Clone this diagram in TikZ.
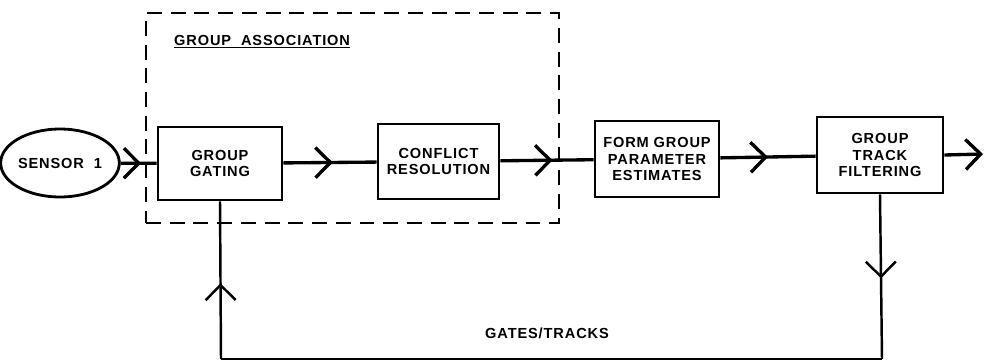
\documentclass[tikz,border=0pt]{standalone}
\usepackage{fontspec}
\newfontfamily\diagfont[LetterSpace=6]{Liberation Sans}
\usetikzlibrary{shapes.geometric,arrows.meta,decorations.markings}

\begin{document}
\begin{tikzpicture}[
    x=0.02cm, y=-0.02cm,
    every node/.style={font=\diagfont\bfseries\fontsize{8.3}{9.6}\selectfont},
    chev/.tip={Straight Barb[length=0.3cm,width=0.6cm]},
    blk/.style={rectangle,draw,line width=1.6pt,align=center,inner sep=0pt},
    src/.style={ellipse,draw,line width=1.6pt,minimum width=2.08cm,minimum height=1.36cm,inner sep=0pt},
    assocbox/.style={rectangle,draw,line width=1.5pt,dash pattern=on 8.5pt off 5pt,inner sep=0pt},
    main/.style={line width=1.9pt},
    fback/.style={line width=1.4pt},
    flow/.style={postaction={decorate},decoration={markings,mark=at position #1 with {\arrow{chev}}}},
    flow/.default=0.55,]
\useasboundingbox (0,0) rectangle (984,362);

% group association frame
\node[assocbox,minimum width=8.26cm,minimum height=4.2cm] (assoc) at (352.5,118) {};
\node[anchor=base west] (assoclbl) at (168,45) {\underline{GROUP\ \ ASSOCIATION}};

% blocks
\node[src] (sensor) at (60,163) {SENSOR\ \ 1};
\node[blk,minimum width=2.48cm,minimum height=1.46cm] (gating) at (220,163.5) {GROUP\\GATING};
\node[blk,minimum width=2.42cm,minimum height=1.5cm] (conflict) at (438.5,161.5) {CONFLICT\\RESOLUTION};
\node[blk,minimum width=2.48cm,minimum height=1.52cm] (form) at (657,159) {FORM GROUP\\PARAMETER\\ESTIMATES};
\node[blk,minimum width=2.52cm,minimum height=1.52cm] (track) at (880,155) {GROUP\\TRACK\\FILTERING};
\coordinate (out) at (983,154);

% forward path
\draw[main,flow=0.57] (sensor) -- (gating);
\draw[main,flow=0.53] (gating) -- (conflict);
\draw[main,flow=0.56] (conflict) -- (form);
\draw[main,flow=0.5] (form) -- (track);
\draw[main,-chev] (track.east) -- (out);

% feedback
\coordinate (fbR) at (882,359);
\coordinate (fbL) at (221,359);
\draw[fback,flow=0.51] (track.south) -- (fbR);
\draw[fback] (fbR) -- (fbL);
\draw[fback,flow=0.48] (fbL) -- (gating.south);
\node (fblbl) at (547,333) {GATES/TRACKS};
\end{tikzpicture}
\end{document}
